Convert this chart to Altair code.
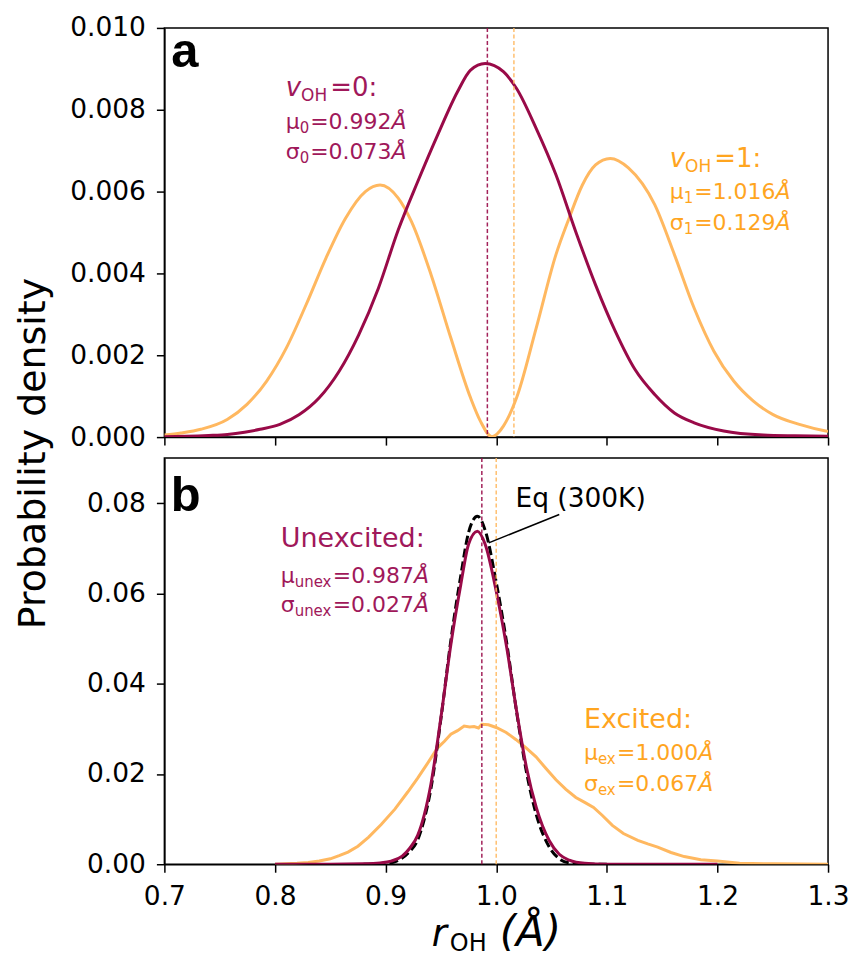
import altair as alt
import pandas as pd

# ---------------- data ----------------
# panel a : v_OH = 0 and v_OH = 1 probability densities
r_v0 = [0.70, 0.72, 0.74, 0.757, 0.7725, 0.7865, 0.8044, 0.822, 0.840, 0.858, 0.8757, 0.8935,
        0.9114, 0.929, 0.947, 0.965, 0.9768, 0.990, 1.0065, 1.0184, 1.0362, 1.054, 1.0719,
        1.0898, 1.1076, 1.1255, 1.1433, 1.1611, 1.179, 1.2057, 1.2414, 1.27, 1.30]
p_v0 = [0.00001, 0.00002, 0.00004, 0.000066, 0.00012, 0.00019, 0.00031, 0.00055, 0.00096, 0.00161,
        0.00250, 0.00364, 0.00506, 0.00624, 0.00738, 0.00844, 0.00897, 0.00913, 0.00893, 0.00852,
        0.00754, 0.00641, 0.00502, 0.00372, 0.00259, 0.00165, 0.00104, 0.00059, 0.00035, 0.00015,
        0.00005, 0.00003, 0.00002]

r_v1 = [0.70, 0.715, 0.733, 0.7568, 0.7747, 0.7925, 0.8103, 0.8282, 0.846, 0.8638, 0.8817, 0.895,
        0.9114, 0.9233, 0.9411, 0.959, 0.9768, 0.9857, 0.9961, 1.0065, 1.0184, 1.0362, 1.054,
        1.0659, 1.0779, 1.0898, 1.1031, 1.1195, 1.1433, 1.1611, 1.179, 1.1968, 1.2147, 1.2325,
        1.2503, 1.2741, 1.2979, 1.30]
p_v1 = [0.00005, 0.00010, 0.00019, 0.00043, 0.00080, 0.00137, 0.00218, 0.00324, 0.00437, 0.00535,
        0.00600, 0.00616, 0.00584, 0.00527, 0.00397, 0.00242, 0.00096, 0.00039, 0.00001, 0.00027,
        0.00096, 0.00267, 0.00446, 0.00535, 0.00616, 0.00665, 0.00681, 0.00658, 0.00568, 0.00446,
        0.00315, 0.00210, 0.00137, 0.00088, 0.00055, 0.00031, 0.00015, 0.00014]

mu_a = [0.992, 1.016]

# panel b : unexcited, excited and equilibrium (300K) densities
r_unex = [0.80, 0.85, 0.88, 0.895, 0.905, 0.915, 0.922, 0.929, 0.935, 0.941, 0.950, 0.959, 0.968,
          0.975, 0.983, 0.990, 1.000, 1.0095, 1.0184, 1.0273, 1.0362, 1.048, 1.057, 1.066, 1.08,
          1.10, 1.20]
p_unex = [0.0, 0.0, 0.0001, 0.0003, 0.0007, 0.0018, 0.0036, 0.0064, 0.0110, 0.0178, 0.0325, 0.0487,
          0.0620, 0.0709, 0.0738, 0.0709, 0.0605, 0.0480, 0.0340, 0.0215, 0.0126, 0.0052, 0.0022,
          0.0009, 0.0002, 0.0, 0.0]

r_eq = [0.88, 0.90, 0.91, 0.92, 0.929, 0.935, 0.941, 0.950, 0.959, 0.968, 0.975, 0.983, 0.990,
        1.000, 1.0095, 1.0184, 1.0273, 1.0362, 1.048, 1.057, 1.066, 1.08, 1.10]
p_eq = [0.0, 0.0002, 0.0007, 0.0024, 0.0054, 0.0100, 0.0168, 0.0322, 0.0496, 0.0640, 0.0735, 0.0771,
        0.0740, 0.0625, 0.0490, 0.0338, 0.0205, 0.0110, 0.0038, 0.0012, 0.0003, 0.0, 0.0]

r_ex = [0.80, 0.81, 0.82, 0.83, 0.84, 0.85, 0.858, 0.866, 0.875, 0.8847, 0.896, 0.9084, 0.920,
        0.929, 0.937, 0.947, 0.953, 0.959, 0.965, 0.971, 0.976, 0.980, 0.984, 0.987, 0.993, 1.000,
        1.009, 1.018, 1.027, 1.036, 1.045, 1.054, 1.063, 1.072, 1.080, 1.088, 1.096, 1.105, 1.115,
        1.128, 1.137, 1.146, 1.158, 1.170, 1.185, 1.20, 1.22, 1.25, 1.30]
p_ex = [0.0, 0.0001, 0.0002, 0.0004, 0.0007, 0.0012, 0.0019, 0.0027, 0.0040, 0.0060, 0.0088, 0.0122,
        0.0160, 0.0191, 0.0220, 0.0258, 0.0272, 0.0288, 0.0296, 0.0306, 0.0304, 0.0305, 0.0302,
        0.0310, 0.0309, 0.0303, 0.0292, 0.0276, 0.0258, 0.0238, 0.0212, 0.0187, 0.0166, 0.0148,
        0.0137, 0.0126, 0.0108, 0.0086, 0.0068, 0.0053, 0.0045, 0.0038, 0.0026, 0.0017, 0.0010,
        0.0007, 0.0002, 0.0001, 0.0]

mu_b = [0.987, 1.000]

x_ticks = [0.7, 0.8, 0.9, 1.0, 1.1, 1.2, 1.3]
ya_ticks = [0.0, 0.002, 0.004, 0.006, 0.008, 0.010]
yb_ticks = [0.0, 0.02, 0.04, 0.06, 0.08]

# annotation texts
ann_v0 = ["v", "OH", "=0:", "μ", "0", "=0.992", "σ", "0", "=0.073"]
ann_v1 = ["v", "OH", "=1:", "μ", "1", "=1.016", "σ", "1", "=0.129"]
ann_unex = ["Unexcited:", "μ", "unex", "=0.987", "σ", "unex", "=0.027"]
ann_ex = ["Excited:", "μ", "ex", "=1.000", "σ", "ex", "=0.067"]
eq_label = "Eq (300K)"
y_title = "Probability density"
x_title = ["r", "OH", "(Å)"]

# ---------------- styling ----------------
CRIMSON = "#990a48"
CRIMSON_TXT = "#a0185a"
ORANGE = "#ffb860"
ORANGE_TXT = "#ffa51f"
FONT = "DejaVu Sans"

W, HA, HB = 665, 410, 407
KX = W / 0.6
KYA = HA / 0.010
KYB = HB / 0.09

EM = {c: 0.636 for c in "0123456789"}
EM.update({".": 0.318, "=": 0.838, ":": 0.337, "μ": 0.636, "σ": 0.634, "Å": 0.684, "v": 0.592,
           "O": 0.787, "H": 0.752, "u": 0.634, "n": 0.634, "e": 0.615, "x": 0.592, "U": 0.732,
           "c": 0.550, "i": 0.278, "t": 0.392, "d": 0.635, "E": 0.632})


def tw(s, size):
    return sum(EM.get(ch, 0.6) for ch in s) * size


def block(x0, baselines, rows, ky, color):
    recs = []
    for yb, parts in zip(baselines, rows):
        cur = 0.0
        for txt, size, italic, dy, gap in parts:
            recs.append(dict(x=x0 + cur / KX, y=yb - dy / ky, t=txt, s=size, it=italic, c=color))
            cur += tw(txt, size) + gap
    return recs


def state_rows(a, head=26, main=22, sub=15):
    return [
        [(a[0], head, True, 0, 0), (a[1], 17, False, 5, 3), (a[2], head, False, 0, 0)],
        [(a[3], main, False, 0, 0), (a[4], sub, False, 4, 1), (a[5], main, False, 0, 0), ("Å", main, True, 0, 0)],
        [(a[6], main, False, 0, 0), (a[7], sub, False, 4, 1), (a[8], main, False, 0, 0), ("Å", main, True, 0, 0)],
    ]


def case_rows(a, head=27, main=22, sub=15):
    return [
        [(a[0], head, False, 0, 0)],
        [(a[1], main, False, 0, 0), (a[2], sub, False, 4, 1), (a[3], main, False, 0, 0), ("Å", main, True, 0, 0)],
        [(a[4], main, False, 0, 0), (a[5], sub, False, 4, 1), (a[6], main, False, 0, 0), ("Å", main, True, 0, 0)],
    ]


recs_a = block(0.8097, [0.008341, 0.007537, 0.006805], state_rows(ann_v0), KYA, CRIMSON_TXT) + \
    block(1.1569, [0.00661, 0.005829, 0.005073], state_rows(ann_v1), KYA, ORANGE_TXT)
recs_b = block(0.8052, [0.07032, 0.06236, 0.05588], case_rows(ann_unex), KYB, CRIMSON_TXT) + \
    block(1.07934, [0.03016, 0.02315, 0.01630], case_rows(ann_ex), KYB, ORANGE_TXT) + \
    [dict(x=1.01738, y=0.07916, t=eq_label, s=26.5, it=False, c="#000000")]
df_ta = pd.DataFrame(recs_a)
df_tb = pd.DataFrame(recs_b)

# ---------------- encodings ----------------
xs = alt.Scale(domain=[0.7, 1.3], nice=False, zero=False)
ax_xa = alt.Axis(values=x_ticks, labels=False, title=None, grid=False)
ax_xb = alt.Axis(values=x_ticks, format=".1f", title=None, grid=False, labelFlush=False, labelOverlap=False)
ysa = alt.Scale(domain=[0, 0.010], nice=False, zero=True)
ysb = alt.Scale(domain=[0, 0.09], nice=False, zero=True)
ax_ya = alt.Axis(values=ya_ticks, format=".3f", title=None, grid=False, labelOverlap=False)
ax_yb = alt.Axis(values=yb_ticks, format=".2f", title=None, grid=False, labelOverlap=False)


def XA(f):
    return alt.X(f, type="quantitative", scale=xs, axis=ax_xa)


def XB(f):
    return alt.X(f, type="quantitative", scale=xs, axis=ax_xb)


def YA(f):
    return alt.Y(f, type="quantitative", scale=ysa, axis=ax_ya)


def YB(f):
    return alt.Y(f, type="quantitative", scale=ysb, axis=ax_yb)


def curve(r, p, color, X, Y, width=3.0, dash=None, interp="monotone"):
    kw = dict(color=color, strokeWidth=width, interpolate=interp, clip=True)
    if dash:
        kw["strokeDash"] = dash
    return alt.Chart(pd.DataFrame({"r": r, "p": p})).mark_line(**kw).encode(x=X("r"), y=Y("p"))


def vline(m, color, X):
    return alt.Chart(pd.DataFrame({"m": [m]})).mark_rule(
        color=color, strokeWidth=1.5, strokeDash=[4, 2.5], opacity=0.9).encode(x=X("m"))


def texts(df, X, Y):
    layers = []
    for it in (False, True):
        sub = df[df["it"] == it]
        if len(sub):
            layers.append(alt.Chart(sub).mark_text(
                align="left", baseline="alphabetic", font=FONT,
                fontStyle="italic" if it else "normal").encode(
                x=X("x"), y=Y("y"), text="t:N",
                size=alt.Size("s:Q", scale=None), color=alt.Color("c:N", scale=None)))
    return layers


def panel_label(letter, x, y, X, Y):
    return alt.Chart(pd.DataFrame({"x": [x], "y": [y], "t": [letter]})).mark_text(
        align="left", baseline="alphabetic", font="Liberation Sans", fontWeight="bold",
        fontSize=49, color="black").encode(x=X("x"), y=Y("y"), text="t:N")


# ---------------- panel a ----------------
pa = alt.layer(
    curve(r_v1, p_v1, ORANGE, XA, YA),
    curve(r_v0, p_v0, CRIMSON, XA, YA),
    vline(mu_a[0], CRIMSON, XA),
    vline(mu_a[1], ORANGE, XA),
    *texts(df_ta, XA, YA),
    panel_label("a", 0.7062, 0.00905, XA, YA),
).properties(width=W, height=HA)

# ---------------- panel b ----------------
lead = alt.Chart(pd.DataFrame({"x1": [1.057], "y1": [0.0775], "x2": [0.9932], "y2": [0.0712]})).mark_rule(
    color="black", strokeWidth=1.5).encode(x=XB("x1"), y=YB("y1"), x2="x2", y2="y2")

ytitle = alt.Chart(pd.DataFrame({"t": [y_title]})).mark_text(
    angle=270, align="center", baseline="alphabetic", font=FONT, fontSize=38, color="black").encode(
    text="t:N", x=alt.value(-119.7), y=alt.value(-4.5))


def xt(txt, px, py, size, italic):
    return alt.Chart(pd.DataFrame({"t": [txt]})).mark_text(
        align="left", baseline="alphabetic", font=FONT, fontSize=size,
        fontStyle="italic" if italic else "normal", color="black").encode(
        text="t:N", x=alt.value(px), y=alt.value(py))


pb = alt.layer(
    curve(r_ex, p_ex, ORANGE, XB, YB, width=3.0, interp="linear"),
    curve(r_eq, p_eq, "black", XB, YB, width=3.0, dash=[9, 4]),
    curve(r_unex, p_unex, CRIMSON, XB, YB),
    vline(mu_b[0], CRIMSON, XB),
    vline(mu_b[1], ORANGE, XB),
    lead,
    *texts(df_tb, XB, YB),
    panel_label("b", 0.7058, 0.07821, XB, YB),
    ytitle,
    xt(x_title[0], 268, 489, 37, True),
    xt(x_title[1], 286, 494, 24, False),
    xt(x_title[2], 336, 489, 42, True),
).properties(width=W, height=HB)

chart = alt.vconcat(pa, pb, spacing=21, bounds="flush").configure_view(
    stroke="black", strokeWidth=1.5
).configure_axis(
    labelFont=FONT, labelFontSize=26.5, labelColor="black", tickColor="black", tickSize=8,
    tickWidth=1.5, domainColor="black", domainWidth=1.5, labelPadding=11, grid=False
).properties(background="white", padding={"left": 5.7, "top": 5, "right": 0, "bottom": 0})

chart.save("out.html", embed_options={"renderer": "svg", "actions": False})
